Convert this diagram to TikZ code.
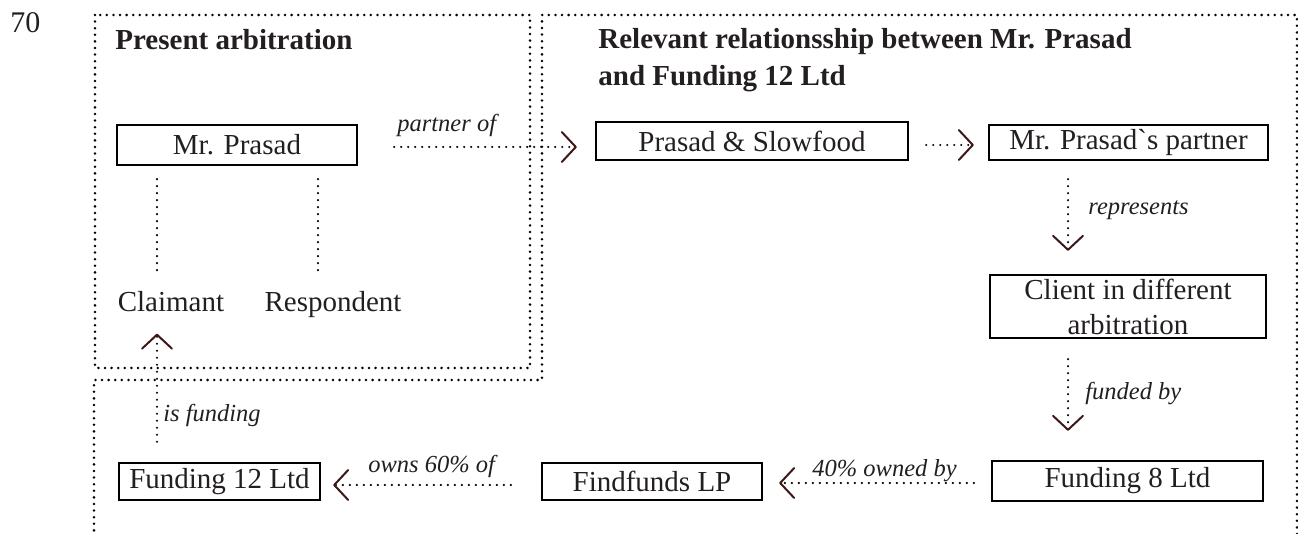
\documentclass[tikz,border=0pt]{standalone}
\usepackage{fontspec}
\setmainfont{Liberation Serif}
\usetikzlibrary{arrows.meta}
\definecolor{tipbrown}{RGB}{62,24,24}
\definecolor{ink}{RGB}{35,31,32}
\begin{document}
\begin{tikzpicture}[x=0.5pt,y=-0.5pt,font=\fontsize{14.5}{17.5}\selectfont,text=ink,
  box/.style={draw=black,line width=1.2pt,inner sep=1pt},
  txt/.style={inner sep=0pt,anchor=base},
  lbl/.style={inner sep=0pt,anchor=base west,font=\fontsize{12.25}{14}\selectfont\itshape},
  frame/.style={line width=1.4pt,line cap=round,dash pattern=on 0pt off 3.3pt},
  plain/.style={line width=1.2pt,line cap=round,dash pattern=on 0pt off 3.5pt},
  link/.style={plain,-{Straight Barb[length=7pt,width=15pt,line width=1pt,round,color=tipbrown]}}]
\useasboundingbox (0,0) rectangle (1298,534);
\draw[frame] (95,15) rectangle (530,368);
\draw[frame] (1297,534) -- (1297,15) -- (542,15) -- (542,380) -- (94,380) -- (94,534);
\node[inner sep=0pt,anchor=base west,font=\fontsize{15}{18}\selectfont] (num) at (10,33) {70};
\node[inner sep=0pt,anchor=base west,font=\fontsize{14.5}{18.5}\selectfont\bfseries] (lefttitle) at (115,50) {Present arbitration};
\node[inner sep=0pt,anchor=north west,align=left,font=\fontsize{14.5}{18.5}\selectfont\bfseries] (righttitle) at (598,28) {Relevant relationsship between Mr. Prasad\\and Funding 12 Ltd};
\node[box,minimum width=120pt,minimum height=20pt] (prasad) at (237,145) {Mr. Prasad};
\node[box,minimum width=156pt,minimum height=19pt] (slowfood) at (752,141) {Prasad \& Slowfood};
\node[box,minimum width=139.5pt,minimum height=17.5pt] (partner) at (1128.5,142.5) {Mr. Prasad\textasciigrave s partner};
\node[box,minimum width=138pt,minimum height=31.5pt,align=center] (client) at (1128,306.5) {Client in different\\arbitration};
\node[box,minimum width=135.5pt,minimum height=20pt] (fund8) at (1127.5,481) {Funding 8 Ltd};
\node[box,minimum width=110pt,minimum height=18.5pt] (findfunds) at (652,481.5) {Findfunds LP};
\node[box,minimum width=100.5pt,minimum height=18.5pt] (fund12) at (219.5,481.5) {Funding 12 Ltd};
\node[txt] (claimant) at (171,312) {Claimant};
\node[txt] (respondent) at (333,312) {Respondent};
\node[lbl] (lpartner) at (397,132) {partner of};
\node[lbl] (lrepresents) at (1088,215) {represents};
\node[lbl] (lfunded) at (1085,400) {funded by};
\node[lbl] (lisfunding) at (163,422) {is funding};
\node[lbl] (lowns) at (368,473) {owns 60\% of};
\node[lbl] (lowned) at (812,477) {40\% owned by};
\draw[plain] ([xshift=-40pt,yshift=-6.5pt]prasad.south) -- ([xshift=-7pt,yshift=9.6pt]claimant.north);
\draw[plain] ([xshift=40.5pt,yshift=-6.5pt]prasad.south) -- ([xshift=-7.5pt,yshift=9.6pt]respondent.north);
\draw[link] ([xshift=18pt,yshift=-1pt]prasad.east) -- ([xshift=-9pt,yshift=-3pt]slowfood.west);
\draw[link] ([xshift=8.5pt,yshift=-2pt]slowfood.east) -- ([xshift=-7pt,yshift=-1.25pt]partner.west);
\draw[link] ([xshift=-30.25pt,yshift=-9pt]partner.south) -- ([xshift=-30pt,yshift=11.5pt]client.north);
\draw[link] ([xshift=-30pt,yshift=-10pt]client.south) -- ([xshift=-29.75pt,yshift=14.5pt]fund8.north);
\draw[link] ([xshift=-8.5pt,yshift=-1pt]fund8.west) -- ([xshift=8pt,yshift=-0.75pt]findfunds.east);
\draw[link] ([xshift=-15pt,yshift=-1.75pt]findfunds.west) -- ([xshift=6pt,yshift=-1.75pt]fund12.east);
\draw[link] ([xshift=-31.25pt,yshift=10pt]fund12.north) -- ([xshift=-7pt,yshift=-10.5pt]claimant.south);
\end{tikzpicture}
\end{document}
